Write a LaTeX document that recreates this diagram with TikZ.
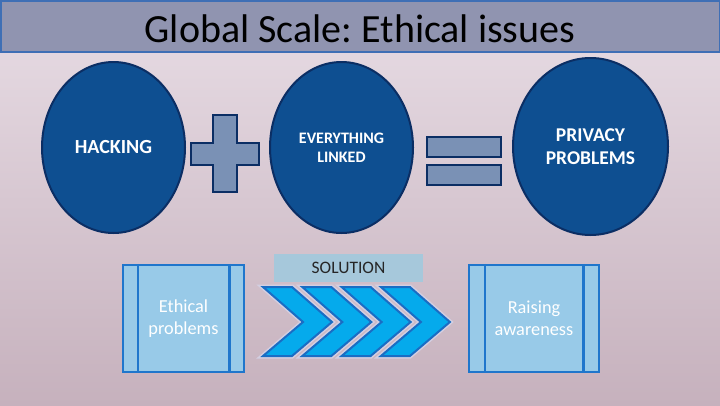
\documentclass[tikz,border=0pt]{standalone}
\usepackage{fontspec}
\setmainfont{Carlito}
\usetikzlibrary{calc,positioning,shapes.geometric}
\frenchspacing

\definecolor{bgtop}{HTML}{E8DDE5}
\definecolor{bgbot}{HTML}{C6B1BD}
\definecolor{titlefill}{HTML}{9094B0}
\definecolor{titleline}{HTML}{3F6FB5}
\definecolor{ovalfill}{HTML}{0E4F91}
\definecolor{ovalline}{HTML}{0B2E64}
\definecolor{signfill}{HTML}{7A91B5}
\definecolor{boxfill}{HTML}{98CAE8}
\definecolor{boxline}{HTML}{1F76CC}
\definecolor{solfill}{HTML}{A6C8DB}
\definecolor{chevfill}{HTML}{05AAEC}
\definecolor{chevline}{HTML}{1A6DC4}
\definecolor{chevhalo}{HTML}{D3CFE2}

\tikzset{
  oval/.style={draw=ovalline,line width=2pt,fill=ovalfill,ellipse,text=white,
    align=center,inner sep=0pt,font=\bfseries},
  signbar/.style={draw=ovalline,line width=2pt,fill=signfill},
  sidebox/.style={draw=boxline,line width=2.5pt,fill=boxfill,rectangle,
    minimum width=121pt,minimum height=107pt,text=white,align=center,
    font=\fontsize{18.3}{21.5}\selectfont},
}

\begin{document}
\begin{tikzpicture}[x=1pt,y=-1pt]

  \useasboundingbox (0,0) rectangle (720,405);
  \shade[top color=bgtop,bottom color=bgbot] (0,0) rectangle (720,405);

  % title bar
  \draw[titleline,line width=1.5pt,fill=titlefill] (0.75,1) rectangle (719.25,52);
  \node at (360,29) (title) {\fontsize{40}{44}\selectfont Global Scale: Ethical issues};

  % the three ovals
  \node [oval,minimum width=143pt,minimum height=171pt,font=\bfseries\fontsize{20}{24}\selectfont] at (113.5,147.5) (hacking) {HACKING};
  \node [oval,minimum width=143pt,minimum height=171pt,font=\bfseries\fontsize{16}{19}\selectfont] at (341.5,147.5) (linked) {EVERYTHING\\LINKED};
  \node [oval,minimum width=155pt,minimum height=177pt,font=\bfseries\fontsize{19.5}{23}\selectfont] at (590.5,146.5) (privacy) {PRIVACY\\PROBLEMS};

  % plus and equals signs
  \draw [signbar] (213,115) -- (237,115) -- (237,143) -- (259,143) -- (259,165) -- (237,165)
    -- (237,192) -- (213,192) -- (213,165) -- (191,165) -- (191,143) -- (213,143) -- cycle;
  \foreach \y in {137,165}{
    \draw [signbar] (427,\y) rectangle ++(74,20);
  }

  % bottom row
  \node [sidebox] at (183.5,318.5) (ethical) {Ethical\\problems};
  \node [sidebox,minimum width=130pt] at (534,318.5) (raising) {Raising\\awareness};
  \foreach \b/\d in {ethical/16, raising/17}{
    \draw [boxline,line width=2.5pt] ($(\b.north west)+(\d,0)$) -- ($(\b.south west)+(\d,0)$);
    \draw [boxline,line width=2.5pt] ($(\b.north east)+(-\d,0)$) -- ($(\b.south east)+(-\d,0)$);
  }

  \node [fill=solfill,minimum width=149pt,minimum height=28pt,text=black!85,
    font=\fontsize{17.5}{20}\selectfont] at (348.5,268) (solution) {SOLUTION};

  \foreach \n in {0,...,3}{
    \pgfmathsetmacro{\cx}{263+39.3*\n}
    \draw [chevhalo,line width=5pt] (\cx,287) -- ++(29,0) -- ++(40,35) -- ++(-40,34)
      -- ++(-29,0) -- ++(40,-34) -- cycle;
    \draw [chevline,line width=2pt,fill=chevfill] (\cx,287) -- ++(29,0) -- ++(40,35) -- ++(-40,34)
      -- ++(-29,0) -- ++(40,-34) -- cycle;
  }

\end{tikzpicture}
\end{document}
